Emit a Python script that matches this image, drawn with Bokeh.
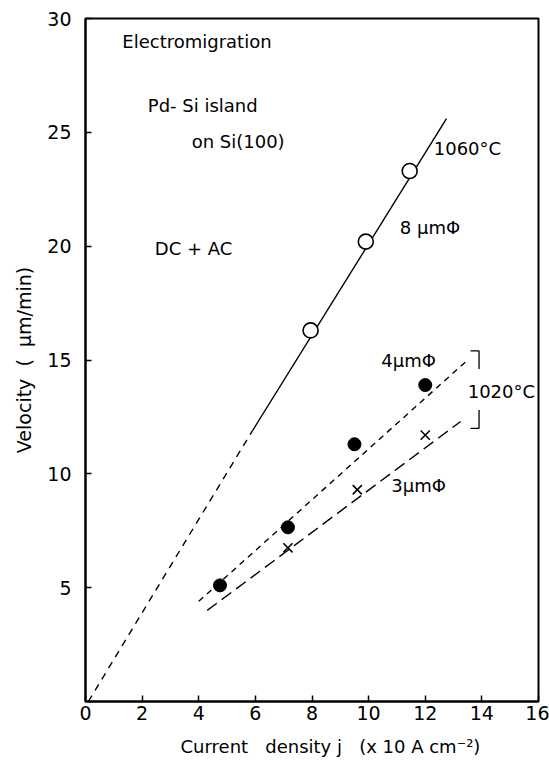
from bokeh.plotting import figure
from bokeh.models import Range1d, Label, FixedTicker, Title
from bokeh.embed import file_html
from bokeh.resources import INLINE

# ---- data ----
# 1060 C, 8 um islands (open circles)
j_8um = [7.95, 9.9, 11.45]
v_8um = [16.3, 20.2, 23.3]
# 1020 C, 4 um islands (filled circles)
j_4um = [4.75, 7.15, 9.5, 12.0]
v_4um = [5.1, 7.65, 11.3, 13.9]
# 1020 C, 3 um islands (crosses)
j_3um = [7.15, 9.6, 12.0]
v_3um = [6.75, 9.3, 11.7]

# fitted lines (end points)
fit8_dash_x = [0.1, 5.9]
fit8_dash_y = [0.0, 11.9]
fit8_solid_x = [5.9, 12.75]
fit8_solid_y = [11.9, 25.6]
fit4_x = [4.0, 13.5]
fit4_y = [4.4, 15.0]
fit3_x = [4.3, 13.25]
fit3_y = [4.0, 12.3]

x_ticks = [0, 2, 4, 6, 8, 10, 12, 14, 16]
y_ticks = [0, 5, 10, 15, 20, 25, 30]

FONT = "DejaVu Sans"
NB = "\u00a0"

p = figure(width=549, height=769, output_backend="svg", toolbar_location=None,
           x_range=Range1d(0, 16), y_range=Range1d(0, 30),
           min_border_left=85, min_border_right=11, min_border_top=18, min_border_bottom=68)

p.background_fill_color = "white"
p.border_fill_color = "white"
p.grid.visible = False
p.outline_line_color = "black"
p.outline_line_width = 2

for ax in (p.xaxis[0], p.yaxis[0]):
    ax.axis_line_width = 2
    ax.major_tick_in = 6
    ax.major_tick_out = 0
    ax.major_tick_line_width = 1.5
    ax.minor_tick_line_color = None
    ax.major_label_text_font = FONT
    ax.major_label_text_font_size = "19px"
    ax.major_label_text_color = "black"
    ax.axis_label_text_font = FONT
    ax.axis_label_text_font_style = "normal"
    ax.axis_label_text_font_size = "19px"
    ax.axis_label_text_color = "black"

p.xaxis.ticker = FixedTicker(ticks=x_ticks)
p.yaxis.ticker = FixedTicker(ticks=y_ticks)
p.yaxis.major_label_overrides = {0: ""}
p.xaxis.major_label_standoff = 4
p.yaxis.major_label_standoff = 14
p.yaxis.axis_label = "Velocity" + NB * 2 + "(" + NB * 2 + "µm/min)"
p.yaxis.axis_label_standoff = 9

# lines
p.line(fit8_dash_x, fit8_dash_y, line_color="black", line_width=1.4, line_dash="7 6")
p.line(fit8_solid_x, fit8_solid_y, line_color="black", line_width=1.4)
p.line(fit4_x, fit4_y, line_color="black", line_width=1.4, line_dash="6 5")
p.line(fit3_x, fit3_y, line_color="black", line_width=1.4, line_dash="12 6")

# markers
p.scatter(j_8um, v_8um, marker="circle", size=15, fill_color="white",
          line_color="black", line_width=1.6)
p.scatter(j_4um, v_4um, marker="circle", size=13, fill_color="black", line_color="black")
p.scatter(j_3um, v_3um, marker="x", size=13, line_color="black", line_width=1.6)

def lab(txt, x, y, size="18px", align="left"):
    p.add_layout(Label(x=x, y=y, text=txt, text_font=FONT, text_font_size=size,
                       text_color="black", text_align=align, text_baseline="middle"))

lab("Electromigration", 1.3, 29.0)
lab("Pd-" + NB + "Si" + NB + "island", 2.2, 26.2)
lab("on" + NB + "Si(100)", 3.75, 24.6)
lab("DC" + NB + "+" + NB + "AC", 2.45, 19.9)
lab("1060°C", 12.3, 24.3)
lab("8" + NB + "µmΦ", 11.1, 20.8)
lab("4µmΦ", 10.45, 15.0)
lab("1020°C", 13.5, 13.6)
lab("3µmΦ", 10.8, 9.5)

# bracket for 1020 C
p.line([13.6, 13.9, 13.9], [15.4, 15.4, 14.6], line_color="black", line_width=1.3)
p.line([13.6, 13.9, 13.9], [12.0, 12.0, 12.8], line_color="black", line_width=1.3)

# x axis title (placed to the right as in the reference)
xt = Title(text="Current" + NB * 3 + "density" + NB + "j" + NB * 3 + "(x" + NB + "10" + NB + "A" + NB + "cm⁻²)",
           align="left", offset=95, text_font=FONT, text_font_size="18px",
           text_font_style="normal", text_color="black", standoff=23)
p.add_layout(xt, "below")

open("out.html", "w").write(file_html(p, INLINE))
